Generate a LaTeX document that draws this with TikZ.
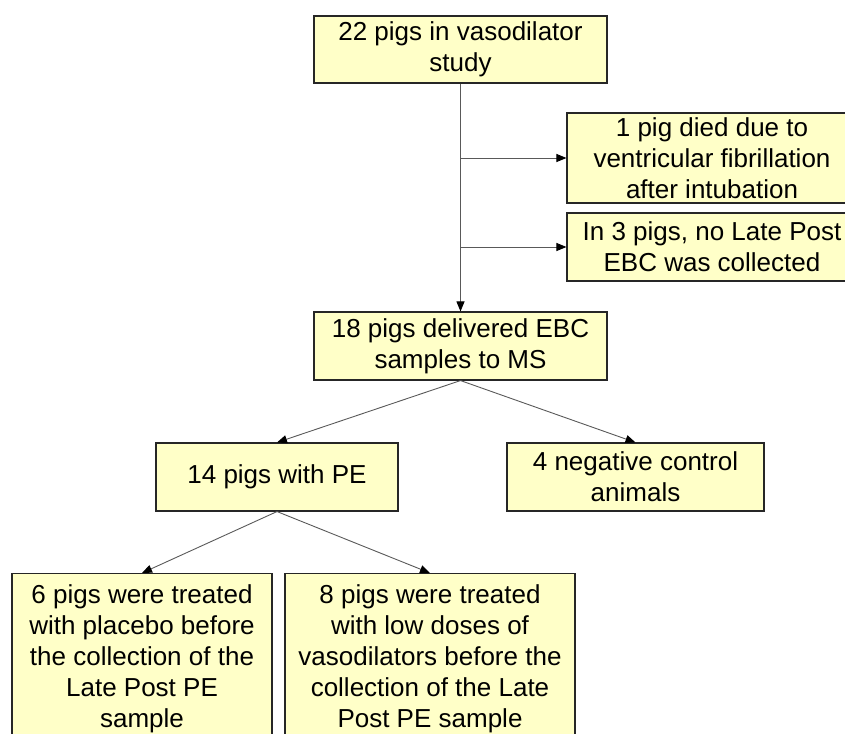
\documentclass[tikz,border=0pt]{standalone}
\usepackage{fontspec}
\setmainfont{Liberation Sans}
\usepackage{xcolor}
\usetikzlibrary{positioning,arrows.meta}
\definecolor{boxfill}{HTML}{FFFFC8}
\tikzset{
  fbox/.style={rectangle, draw=black!85, fill=boxfill, line width=1.1pt,
    align=center, inner sep=2pt, font=\fontsize{26}{31}\selectfont},
  flow/.style={-{Triangle[length=10pt,width=8pt,color=black]}, draw=black!65, line width=0.9pt},
}

\begin{document}
\begin{tikzpicture}[x=1pt,y=-1pt]
\useasboundingbox (0,0) rectangle (845,733);
% ---- spine ----
\node[fbox, minimum width=293pt, minimum height=67pt] (start) at (460.5,49.5) {22 pigs in vasodilator\\study};
\node[fbox, minimum width=293pt, minimum height=68pt] (ms) at (460.5,346) {18 pigs delivered EBC\\samples to MS};
% ---- exclusions ----
\node[fbox, minimum width=290pt, minimum height=90pt] (died) at (712,158) {1 pig died due to\\ventricular fibrillation\\after intubation};
\node[fbox, minimum width=290pt, minimum height=68pt] (noebc) at (712,247) {In 3 pigs, no Late Post\\EBC was collected};
% ---- groups ----
\node[fbox, minimum width=242pt, minimum height=68pt] (pe) at (277,477) {14 pigs with PE};
\node[fbox, minimum width=257pt, minimum height=68pt] (ctrl) at (635.5,477) {4 negative control\\animals};
% ---- treatments ----
\node[fbox, minimum width=260pt, minimum height=170pt, anchor=north] (plac) at (142,573) {6 pigs were treated\\with placebo before\\the collection of the\\Late Post PE\\sample};
\node[fbox, minimum width=290pt, minimum height=170pt, anchor=north] (vaso) at (430,573) {8 pigs were treated\\with low doses of\\vasodilators before the\\collection of the Late\\Post PE sample};
% ---- junctions ----
\coordinate (j1) at (start.south |- died.west);
\coordinate (j2) at (start.south |- noebc.west);
% ---- arrows ----
\draw[flow] (start) -- (ms);
\draw[flow] (j1) -- (died);
\draw[flow] (j2) -- (noebc);
\draw[flow] (ms.south) -- (pe.north);
\draw[flow] (ms.south) -- (ctrl.north);
\draw[flow] (pe.south) -- (plac.north);
\draw[flow] (pe.south) -- (vaso.north);
\end{tikzpicture}
\end{document}
